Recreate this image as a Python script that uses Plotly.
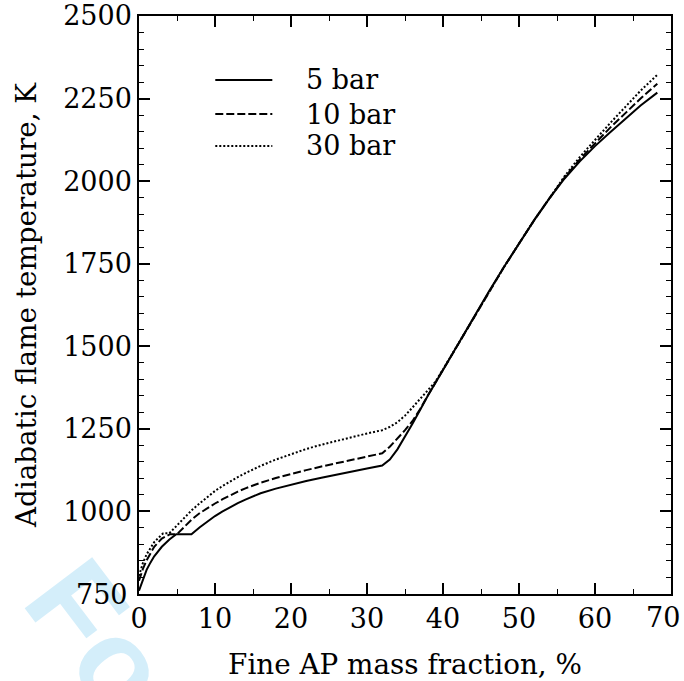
import plotly.graph_objects as go

# ---- data ----
x_5bar = [0, 0.5, 1, 1.5, 2, 3, 4, 4.9, 6.9, 8, 9, 10, 11, 12, 13, 14, 15, 16, 18, 20,
          22, 24, 26, 28, 30, 32, 33, 34, 35, 36, 37, 38, 40, 42, 44, 46, 48, 50, 52, 54,
          56, 58, 60, 62, 64, 66, 68.2]
t_5bar = [760, 795, 823, 845, 864, 893, 915, 931, 931, 952, 970, 986, 1000, 1013, 1025, 1036, 1046, 1055, 1069, 1081,
          1092, 1102, 1112, 1121, 1130, 1139, 1157, 1188, 1226, 1266, 1308, 1350, 1428, 1508, 1587, 1664, 1739, 1811, 1882, 1948,
          2008, 2060, 2106, 2148, 2189, 2229, 2268]

x_10bar = [0, 0.5, 1, 2, 3, 4.1, 5.0, 6, 7, 8, 9, 10, 11, 12, 13, 14, 15, 16, 18, 20,
           22, 24, 26, 28, 30, 32, 33, 34, 35, 36, 37, 38, 40, 42, 44, 46, 48, 50, 52, 54,
           56, 58, 60, 62, 64, 66, 68.2]
t_10bar = [790, 825, 852, 893, 918, 931, 931, 955, 977, 995, 1010, 1024, 1037, 1049, 1060, 1070, 1079, 1087, 1101, 1114,
           1125, 1136, 1146, 1156, 1166, 1176, 1196, 1220, 1246, 1274, 1310, 1351, 1429, 1508, 1587, 1664, 1739, 1811, 1882, 1948,
           2011, 2066, 2115, 2162, 2206, 2250, 2295]

x_30bar = [0, 0.5, 1, 2, 3, 3.2, 4.0, 5, 6, 7, 8, 9, 10, 11, 12, 13, 14, 15, 16, 18, 20,
           22, 24, 26, 28, 30, 32, 33, 34, 35, 36, 37, 38, 39, 40, 42, 44, 46, 48, 50, 52, 54,
           56, 58, 60, 62, 64, 66, 68.2]
t_30bar = [805, 843, 870, 907, 930, 934, 934, 958, 983, 1005, 1025, 1044, 1062, 1077, 1091, 1104, 1116, 1127, 1138, 1157, 1174,
           1189, 1202, 1214, 1225, 1236, 1246, 1256, 1270, 1290, 1315, 1340, 1365, 1393, 1430, 1508, 1587, 1664, 1739, 1811, 1882, 1948,
           2015, 2073, 2125, 2176, 2225, 2274, 2322]

series_names = ["5 bar", "10 bar", "30 bar"]
series_dash = ["solid", "8px,3px", "2px,2px"]

x_ticks = [0, 10, 20, 30, 40, 50, 60, 70]
x_ticktext = ["0", "10", "20", "30", "40", "50", "60", ""]   # "70" drawn as annotation (kept inside page)
y_ticks = [750, 1000, 1250, 1500, 1750, 2000, 2250, 2500]
y_ticktext = ["", "1000", "1250", "1500", "1750", "2000", "2250", "2500"]  # "750" drawn above watermark

FONT = "DejaVu Serif"
TICK_SIZE = 27
TITLE_SIZE = 27.8

fig = go.Figure()
for xs, ys, name, dash in zip([x_5bar, x_10bar, x_30bar], [t_5bar, t_10bar, t_30bar],
                              series_names, series_dash):
    fig.add_trace(go.Scatter(x=xs, y=ys, mode="lines", name=name, showlegend=False,
                             line=dict(color="black", width=2, dash=dash)))

axis_common = dict(
    showgrid=False, zeroline=False, automargin=False,
    showline=True, linecolor="black", linewidth=1.5, mirror="allticks",
    ticks="inside", ticklen=11, tickwidth=1.5, tickcolor="black",
    tickfont=dict(family=FONT, size=TICK_SIZE, color="black"),
    ticklabeloverflow="allow",
)

fig.update_xaxes(
    range=[0, 70], tickvals=x_ticks, ticktext=x_ticktext,
    minor=dict(ticks="inside", dtick=5, ticklen=5.5, tickwidth=1.2, tickcolor="black"),
    title=dict(text="Fine AP mass fraction, %", font=dict(family=FONT, size=TITLE_SIZE, color="black"), standoff=24),
    **axis_common,
)
fig.update_yaxes(
    range=[750, 2500], tickvals=y_ticks, ticktext=y_ticktext,
    minor=dict(ticks="inside", dtick=50, ticklen=5.5, tickwidth=1.2, tickcolor="black"),
    title=dict(text="Adiabatic flame temperature, K", font=dict(family=FONT, size=TITLE_SIZE, color="black"), standoff=18),
    **axis_common,
)

# watermark (drawn first so the labels sit on top of it)
fig.add_annotation(
    text="Fo", xref="paper", yref="paper", x=-0.076, y=-0.072,
    xanchor="center", yanchor="middle", showarrow=False, textangle=52.8,
    font=dict(family="Liberation Sans", size=123, color="#d4eefa", weight="bold"),
)
# tick labels that needed special placement
fig.add_annotation(text="750", xref="paper", yref="y", x=0, y=750, xanchor="right", yanchor="middle",
                   xshift=-9, showarrow=False, font=dict(family=FONT, size=TICK_SIZE, color="black"))
fig.add_annotation(text="70", xref="x", yref="paper", x=70, y=0, xanchor="center", yanchor="top",
                   xshift=-8, yshift=-6, showarrow=False, font=dict(family=FONT, size=TICK_SIZE, color="black"))

# legend drawn inside the axes: long line samples with text to the right
leg_x0, leg_x1, leg_xt = 0.1434, 0.2506, 0.311
leg_y = [0.8893, 0.8304, 0.7751]
for name, dash, ly in zip(series_names, series_dash, leg_y):
    fig.add_shape(type="line", xref="paper", yref="paper", x0=leg_x0, x1=leg_x1, y0=ly, y1=ly,
                  line=dict(color="black", width=2, dash=dash))
    fig.add_annotation(text=name, xref="paper", yref="paper", x=leg_xt, y=ly, xanchor="left",
                       yanchor="middle", showarrow=False,
                       font=dict(family=FONT, size=TICK_SIZE, color="black"))

fig.update_layout(
    width=684, height=681,
    margin=dict(l=139, r=13, t=16, b=87),
    paper_bgcolor="white", plot_bgcolor="white",
    showlegend=False,
)

fig.write_html("out.html")
